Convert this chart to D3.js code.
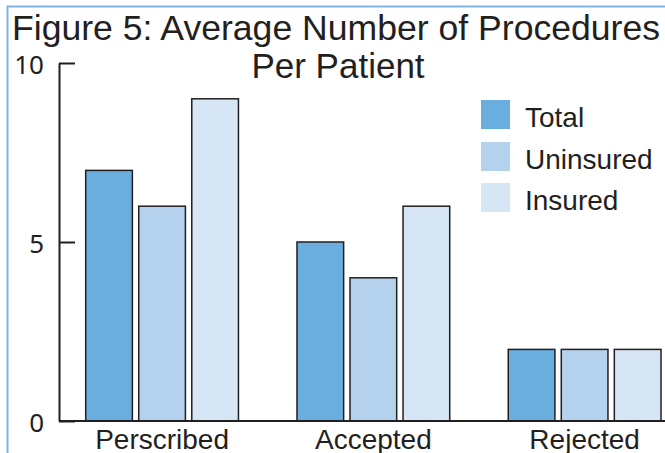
<!DOCTYPE html>
<html>
<head>
<meta charset="utf-8">
<script src="https://cdn.jsdelivr.net/npm/d3@7"></script>
<style>
  body { margin: 0; background: #fff; }
  svg { display: block; }
</style>
</head>
<body>
<svg id="chart" width="665" height="453"></svg>
<script>
// chart data
const categories = ["Perscribed", "Accepted", "Rejected"];
const seriesNames = ["Total", "Uninsured", "Insured"];
const totalValues = [7, 5, 2];
const uninsuredValues = [6, 4, 2];
const insuredValues = [9, 6, 2];
const yTicks = [0, 5, 10];

const seriesValues = [totalValues, uninsuredValues, insuredValues];
const colors = ["#6aaddf", "#b4d2ee", "#d6e6f5"];
const ink = "#231f20";

const svg = d3.select("#chart");

// light blue frame on left and top
svg.append("path")
    .attr("d", "M7.5,453V6.5H665")
    .style("fill", "none")
    .style("stroke", "#80b4e4")
    .style("stroke-width", 2);

// scales
const y = d3.scaleLinear()
    .domain([0, 10])
    .range([421, 63]);

const x0 = d3.scaleBand()
    .domain(categories)
    .range([85.7, 661])
    .paddingInner(0.277)
    .paddingOuter(0);

const x1 = d3.scaleBand()
    .domain(seriesNames)
    .range([0, x0.bandwidth()])
    .paddingInner(0.12)
    .paddingOuter(0);

// bars
const groups = svg.append("g")
    .selectAll("g")
    .data(categories)
    .join("g")
        .attr("transform", d => `translate(${x0(d)},0)`);

groups.selectAll("rect")
    .data((d, i) => seriesNames.map((s, j) => ({ series: s, value: seriesValues[j][i], idx: j })))
    .join("rect")
        .attr("x", d => x1(d.series))
        .attr("y", d => y(d.value))
        .attr("width", x1.bandwidth())
        .attr("height", d => y(0) - y(d.value))
        .style("fill", d => colors[d.idx])
        .style("stroke", ink)
        .style("stroke-width", 1.5);

// y axis
const yAxis = svg.append("g")
    .attr("transform", "translate(59,0)")
    .call(d3.axisLeft(y)
        .tickValues(yTicks)
        .tickSizeInner(-16)
        .tickSizeOuter(0)
        .tickPadding(15));

yAxis.select(".domain")
    .style("stroke", ink)
    .style("stroke-width", 2);
yAxis.selectAll(".tick line")
    .style("stroke", ink)
    .style("stroke-width", 2);
yAxis.selectAll(".tick text")
    .attr("dy", "0.42em")
    .style("font-family", "'Noto Sans', sans-serif")
    .style("font-size", "26px")
    .style("fill", ink);

// baseline
svg.append("line")
    .attr("x1", 59)
    .attr("x2", 665)
    .attr("y1", y(0))
    .attr("y2", y(0))
    .style("stroke", ink)
    .style("stroke-width", 2);

// category labels
const xAxis = svg.append("g")
    .attr("transform", `translate(0,${y(0)})`)
    .call(d3.axisBottom(x0).tickSize(0));

xAxis.select(".domain").remove();
xAxis.selectAll(".tick text")
    .attr("y", 28)
    .attr("dy", 0)
    .style("font-family", "'Liberation Sans', Arial, sans-serif")
    .style("font-size", "28px")
    .style("fill", ink);

// title
svg.append("text")
    .attr("x", 336)
    .attr("y", 40)
    .attr("text-anchor", "middle")
    .attr("textLength", 648)
    .attr("lengthAdjust", "spacingAndGlyphs")
    .style("font-family", "'Liberation Sans', Arial, sans-serif")
    .style("font-size", "35px")
    .style("fill", ink)
    .text("Figure 5: Average Number of Procedures");

svg.append("text")
    .attr("x", 338)
    .attr("y", 78)
    .attr("text-anchor", "middle")
    .style("font-family", "'Liberation Sans', Arial, sans-serif")
    .style("font-size", "35px")
    .style("fill", ink)
    .text("Per Patient");

// legend
const legendRows = [100, 142, 183];
const legend = svg.append("g")
    .selectAll("g")
    .data(seriesNames)
    .join("g")
        .attr("transform", (d, i) => `translate(481,${legendRows[i]})`);

legend.append("rect")
    .attr("width", 29)
    .attr("height", 29)
    .style("fill", (d, i) => colors[i]);

legend.append("text")
    .attr("x", 44)
    .attr("y", 27)
    .style("font-family", "'Liberation Sans', Arial, sans-serif")
    .style("font-size", "28px")
    .style("fill", ink)
    .text(d => d);
</script>
</body>
</html>
